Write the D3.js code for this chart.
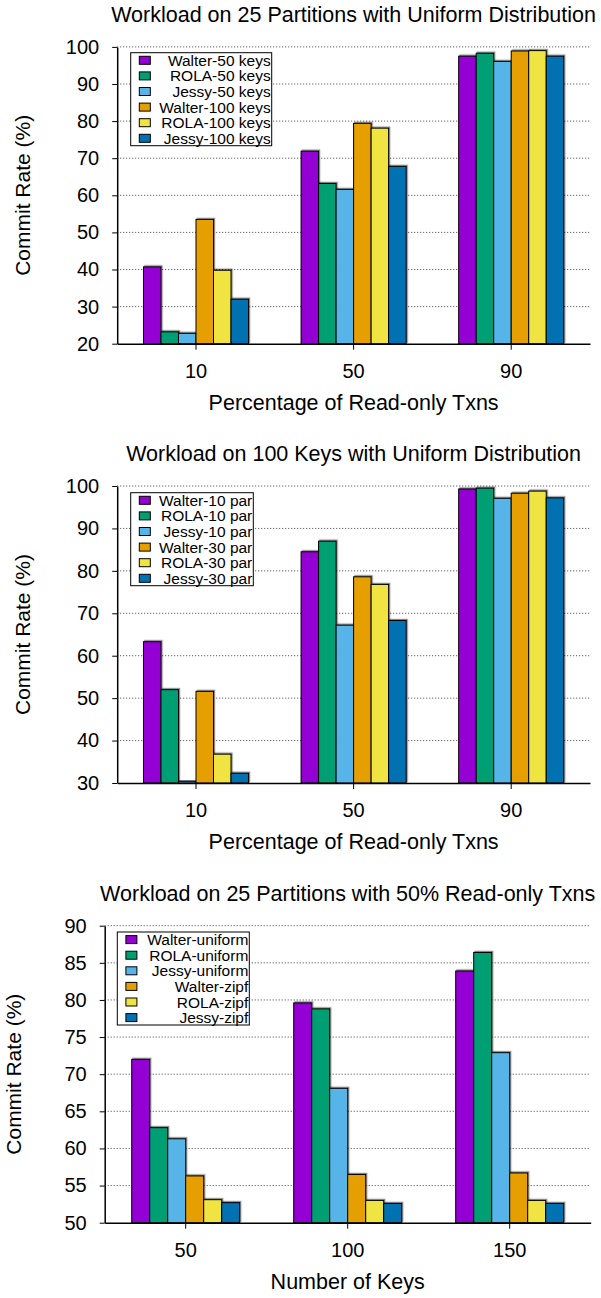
<!DOCTYPE html>
<html>
<head>
<meta charset="utf-8">
<script src="https://cdn.jsdelivr.net/npm/d3@7"></script>
<style>
    body { margin: 0; background: #fff; }
    text { font-family: "Liberation Sans", Arial, sans-serif; fill: #000; }
</style>
</head>
<body>
<script>
// Colours shared by the three panels (gnuplot-like palette).
const colors = ["#9400d3", "#009e73", "#56b4e9", "#e69f00", "#f0e442", "#0072b2"];

// Panel 1: 25 partitions, uniform distribution.
const groups1 = ["10", "50", "90"];
const series1 = ["Walter-50 keys", "ROLA-50 keys", "Jessy-50 keys",
                 "Walter-100 keys", "ROLA-100 keys", "Jessy-100 keys"];
const values1 = [
    [40.7, 23.2, 22.8, 53.5, 39.8, 32.0],
    [71.9, 63.2, 61.6, 79.4, 78.1, 67.8],
    [97.5, 98.3, 96.1, 98.9, 99.0, 97.5]
];
const yTicks1 = [20, 30, 40, 50, 60, 70, 80, 90, 100];

// Panel 2: 100 keys, uniform distribution.
const groups2 = ["10", "50", "90"];
const series2 = ["Walter-10 par", "ROLA-10 par", "Jessy-10 par",
                 "Walter-30 par", "ROLA-30 par", "Jessy-30 par"];
const values2 = [
    [63.3, 52.0, 30.4, 51.6, 36.8, 32.3],
    [84.5, 87.0, 67.2, 78.6, 76.8, 68.3],
    [99.3, 99.5, 97.1, 98.3, 98.8, 97.2]
];
const yTicks2 = [30, 40, 50, 60, 70, 80, 90, 100];

// Panel 3: 25 partitions, 50% read-only txns.
const groups3 = ["50", "100", "150"];
const series3 = ["Walter-uniform", "ROLA-uniform", "Jessy-uniform",
                 "Walter-zipf", "ROLA-zipf", "Jessy-zipf"];
const values3 = [
    [72.0, 62.8, 61.3, 56.3, 53.1, 52.7],
    [79.6, 78.8, 68.1, 56.5, 53.0, 52.6],
    [83.9, 86.4, 72.9, 56.7, 53.0, 52.6]
];
const yTicks3 = [50, 55, 60, 65, 70, 75, 80, 85, 90];

const width = 601;
const height = 1298;

const svg = d3.select("body")
    .append("svg")
        .attr("width", width)
        .attr("height", height);

// Soft shadow behind the bars.
svg.append("defs")
    .append("filter")
        .attr("id", "shadow")
        .attr("x", "-20%").attr("y", "-20%")
        .attr("width", "140%").attr("height", "140%")
    .append("feDropShadow")
        .attr("dx", 1.2)
        .attr("dy", -1.2)
        .attr("stdDeviation", 0.6)
        .attr("flood-color", "#000")
        .attr("flood-opacity", 0.45);

function panel(p) {
    const g = svg.append("g");

    const x = d3.scaleBand()
        .domain(p.groups)
        .range([p.left, p.right]);

    const y = d3.scaleLinear()
        .domain([p.yTicks[0], p.yTicks[p.yTicks.length - 1]])
        .range([p.bottom, p.top]);

    // Bars fill two thirds of each band.
    const inner = d3.scaleBand()
        .domain(d3.range(p.series.length))
        .range([0, x.bandwidth() * 2 / 3]);
    const groupOffset = x.bandwidth() / 6;

    // Dotted gridlines.
    g.append("g")
        .selectAll("line")
        .data(p.yTicks.slice(1))
        .join("line")
            .attr("x1", p.left)
            .attr("x2", p.right)
            .attr("y1", d => y(d))
            .attr("y2", d => y(d))
            .attr("stroke", "#444")
            .attr("stroke-width", 1)
            .attr("stroke-dasharray", "1,2");

    // Bars.
    g.append("g")
        .selectAll("g")
        .data(p.values)
        .join("g")
            .attr("transform", (d, i) => `translate(${x(p.groups[i]) + groupOffset},0)`)
        .selectAll("rect")
        .data(d => d)
        .join("rect")
            .attr("x", (d, j) => inner(j))
            .attr("y", d => y(d))
            .attr("width", inner.bandwidth())
            .attr("height", d => p.bottom - y(d))
            .attr("fill", (d, j) => colors[j])
            .attr("stroke", "#000")
            .attr("stroke-width", 1)
            .attr("filter", "url(#shadow)");

    // Y axis.
    const yAxis = g.append("g")
        .attr("transform", `translate(${p.left},0)`)
        .call(d3.axisLeft(y).tickValues(p.yTicks).tickSize(5).tickPadding(13).tickSizeOuter(0));
    yAxis.select(".domain").attr("stroke-width", 1.5);
    yAxis.selectAll("text")
        .style("font-size", "20px")
        .style("font-family", "'Liberation Sans', Arial, sans-serif");

    // X axis.
    const xAxis = g.append("g")
        .attr("transform", `translate(0,${p.bottom})`)
        .call(d3.axisBottom(x).tickSize(6).tickPadding(14).tickSizeOuter(0));
    xAxis.select(".domain").attr("stroke-width", 1.5);
    xAxis.selectAll("text")
        .style("font-size", "20px")
        .style("font-family", "'Liberation Sans', Arial, sans-serif");

    // Title.
    g.append("text")
        .attr("x", (p.left + p.right) / 2)
        .attr("y", p.top - 25)
        .attr("text-anchor", "middle")
        .style("font-size", "21.5px")
        .text(p.title);

    // Axis titles.
    g.append("text")
        .attr("x", (p.left + p.right) / 2)
        .attr("y", p.bottom + 66)
        .attr("text-anchor", "middle")
        .style("font-size", "21.5px")
        .text(p.xLabel);

    g.append("text")
        .attr("transform", `translate(${p.yLabelX},${(p.top + p.bottom) / 2}) rotate(-90)`)
        .attr("dy", "0.36em")
        .attr("text-anchor", "middle")
        .style("font-size", "21px")
        .text("Commit Rate (%)");

    // Legend.
    const lg = g.append("g")
        .attr("transform", `translate(${p.legend.x},${p.legend.y})`);
    lg.append("rect")
        .attr("width", p.legend.w)
        .attr("height", 93)
        .attr("fill", "#fff")
        .attr("stroke", "#000")
        .attr("stroke-width", 1);
    const rows = lg.selectAll("g")
        .data(p.series)
        .join("g")
            .attr("transform", (d, i) => `translate(0,${7.6 + i * 15.6})`);
    rows.append("rect")
        .attr("x", 8.6)
        .attr("y", -4)
        .attr("width", 11)
        .attr("height", 8)
        .attr("fill", (d, i) => colors[i])
        .attr("stroke", "#000")
        .attr("stroke-width", 1);
    rows.append("text")
        .attr("x", p.legend.w - 1)
        .attr("dy", "0.36em")
        .attr("text-anchor", "end")
        .style("font-size", "15.5px")
        .text(d => d);
}

panel({
    title: "Workload on 25 Partitions with Uniform Distribution",
    xLabel: "Percentage of Read-only Txns",
    groups: groups1, series: series1, values: values1, yTicks: yTicks1,
    left: 117.2, right: 590, top: 46.9, bottom: 343.7, yLabelX: 22,
    legend: { x: 130.7, y: 52.7, w: 141 }
});

panel({
    title: "Workload on 100 Keys with Uniform Distribution",
    xLabel: "Percentage of Read-only Txns",
    groups: groups2, series: series2, values: values2, yTicks: yTicks2,
    left: 117.2, right: 590, top: 486, bottom: 783, yLabelX: 22,
    legend: { x: 130.7, y: 492.7, w: 122.6 }
});

panel({
    title: "Workload on 25 Partitions with 50% Read-only Txns",
    xLabel: "Number of Keys",
    groups: groups3, series: series3, values: values3, yTicks: yTicks3,
    left: 104.7, right: 590.7, top: 925.7, bottom: 1222.7, yLabelX: 13.5,
    legend: { x: 117.3, y: 932, w: 132 }
});
</script>
</body>
</html>
